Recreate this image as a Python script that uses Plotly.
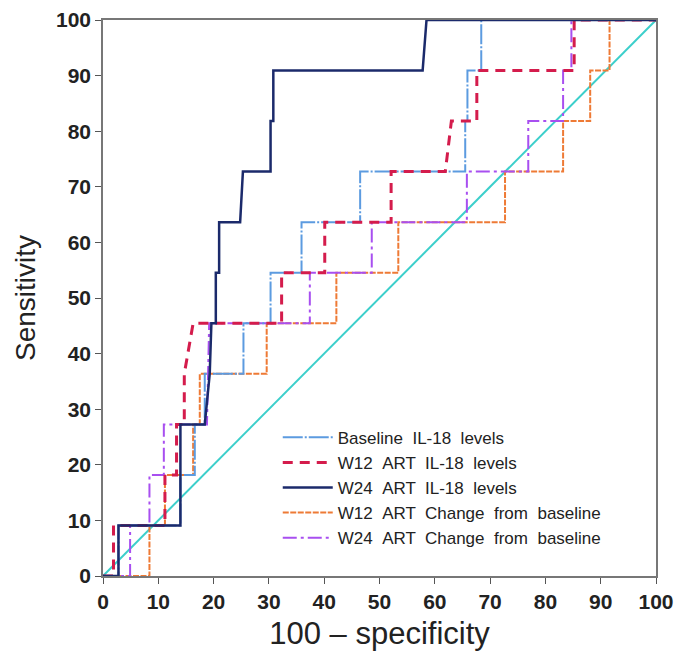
import plotly.graph_objects as go

# ROC step curves: x = 100 - specificity, y = sensitivity
baseline_x = [0, 2.8, 2.8, 14.0, 14.0, 16.6, 16.6, 18.4, 18.4, 25.4, 25.4, 30.3, 30.3,
              35.9, 35.9, 46.5, 46.5, 65.5, 65.5, 65.9, 65.9, 68.4, 68.4, 100]
baseline_y = [0, 0, 9.09, 9.09, 18.18, 18.18, 27.27, 27.27, 36.36, 36.36, 45.45, 45.45, 54.55,
              54.55, 63.64, 63.64, 72.73, 72.73, 81.82, 81.82, 90.91, 90.91, 100, 100]

w12_x = [0, 1.9, 1.9, 11.2, 11.2, 13.3, 13.3, 14.7, 14.7, 16.3, 32.3, 32.3, 40.1, 40.1,
         52.1, 52.1, 61.9, 63.0, 67.6, 67.6, 85.2, 85.2, 100]
w12_y = [0, 0, 9.09, 9.09, 18.18, 18.18, 27.27, 27.27, 36.36, 45.45, 45.45, 54.55, 54.55, 63.64,
         63.64, 72.73, 72.73, 81.82, 81.82, 90.91, 90.91, 100, 100]

w24_x = [0, 2.8, 2.8, 14.0, 14.0, 18.4, 19.3, 19.6, 20.4, 20.4, 21.0, 21.0, 24.8, 25.3,
         30.3, 30.3, 30.8, 30.8, 57.8, 58.5, 100]
w24_y = [0, 0, 9.09, 9.09, 27.27, 27.27, 36.36, 45.45, 45.45, 54.55, 54.55, 63.64, 63.64, 72.73,
         72.73, 81.82, 81.82, 90.91, 90.91, 100, 100]

w12chg_x = [0, 8.4, 8.4, 11.2, 11.2, 16.3, 16.3, 17.5, 17.5, 29.6, 29.6, 42.2, 42.2, 53.4, 53.4,
            72.7, 72.7, 83.2, 83.2, 88.1, 88.1, 91.6, 91.6, 100]
w12chg_y = [0, 0, 9.09, 9.09, 18.18, 18.18, 27.27, 27.27, 36.36, 36.36, 45.45, 45.45, 54.55, 54.55,
            63.64, 63.64, 72.73, 72.73, 81.82, 81.82, 90.91, 90.91, 100, 100]

w24chg_x = [0, 4.9, 4.9, 8.4, 8.4, 11.0, 11.0, 18.8, 19.2, 37.4, 37.4, 48.6, 48.6, 65.8, 65.8,
            76.9, 76.9, 83.2, 83.2, 84.7, 84.7, 100]
w24chg_y = [0, 0, 9.09, 9.09, 18.18, 18.18, 27.27, 27.27, 45.45, 45.45, 54.55, 54.55, 63.64, 63.64,
            72.73, 72.73, 81.82, 81.82, 90.91, 90.91, 100, 100]

ref_x = [0, 100]
ref_y = [0, 100]

ticks = [0, 10, 20, 30, 40, 50, 60, 70, 80, 90, 100]


def wide(s):
    # the legend in the source uses roomy word gaps
    return s.replace(' ', ' \u00a0')


fig = go.Figure()

fig.add_trace(go.Scatter(x=ref_x, y=ref_y, mode='lines', showlegend=False,
                         line=dict(color='#3CCFCB', width=2)))
fig.add_trace(go.Scatter(x=w12chg_x, y=w12chg_y, mode='lines', name=wide('W12 ART Change from baseline'),
                         legendrank=4, line=dict(color='#EE7A35', width=2, dash='6px,1.5px')))
fig.add_trace(go.Scatter(x=w24chg_x, y=w24chg_y, mode='lines', name=wide('W24 ART Change from baseline'),
                         legendrank=5, line=dict(color='#A84FF0', width=2, dash='14px,4px,3px,4px')))
fig.add_trace(go.Scatter(x=baseline_x, y=baseline_y, mode='lines', name=wide('Baseline IL-18 levels'),
                         legendrank=1, line=dict(color='#5C9BE0', width=2, dash='20px,2px,2px,2px')))
fig.add_trace(go.Scatter(x=w12_x, y=w12_y, mode='lines', name=wide('W12 ART IL-18 levels'),
                         legendrank=2, line=dict(color='#D41C4C', width=3, dash='10px,7px')))
fig.add_trace(go.Scatter(x=w24_x, y=w24_y, mode='lines', name=wide('W24 ART IL-18 levels'),
                         legendrank=3, line=dict(color='#1B2A6B', width=2.5)))

axis_common = dict(
    range=[0, 100], tickvals=ticks, ticks='outside', ticklen=6, tickcolor='#555',
    showline=True, linecolor='#777', linewidth=1.5, mirror=True,
    showgrid=False, zeroline=False, automargin=False,
    tickfont=dict(family='Arial, Liberation Sans', size=21, color='#222', weight='bold'),
)

fig.update_layout(
    width=675, height=655,
    margin=dict(l=103, r=19, t=20, b=79),
    paper_bgcolor='white', plot_bgcolor='white',
    xaxis=dict(axis_common, title=dict(text='100 – specificity', standoff=10,
                                       font=dict(family='Arial, Liberation Sans', size=31, color='#222'))),
    yaxis=dict(axis_common, title=dict(text='Sensitivity', standoff=12,
                                       font=dict(family='Arial, Liberation Sans', size=28, color='#222'))),
    legend=dict(x=0.316, y=0.281, xanchor='left', yanchor='top', bgcolor='rgba(255,255,255,0)',
                traceorder='normal', tracegroupgap=0, itemwidth=50,
                font=dict(family='Arial, Liberation Sans', size=17, color='#222')),
)

# drop the default page margin so the 675x655 figure sits flush in the window
fig.write_html("out.html", config={'displayModeBar': False},
               post_script="document.body.style.margin='0';document.body.style.overflow='hidden';")
